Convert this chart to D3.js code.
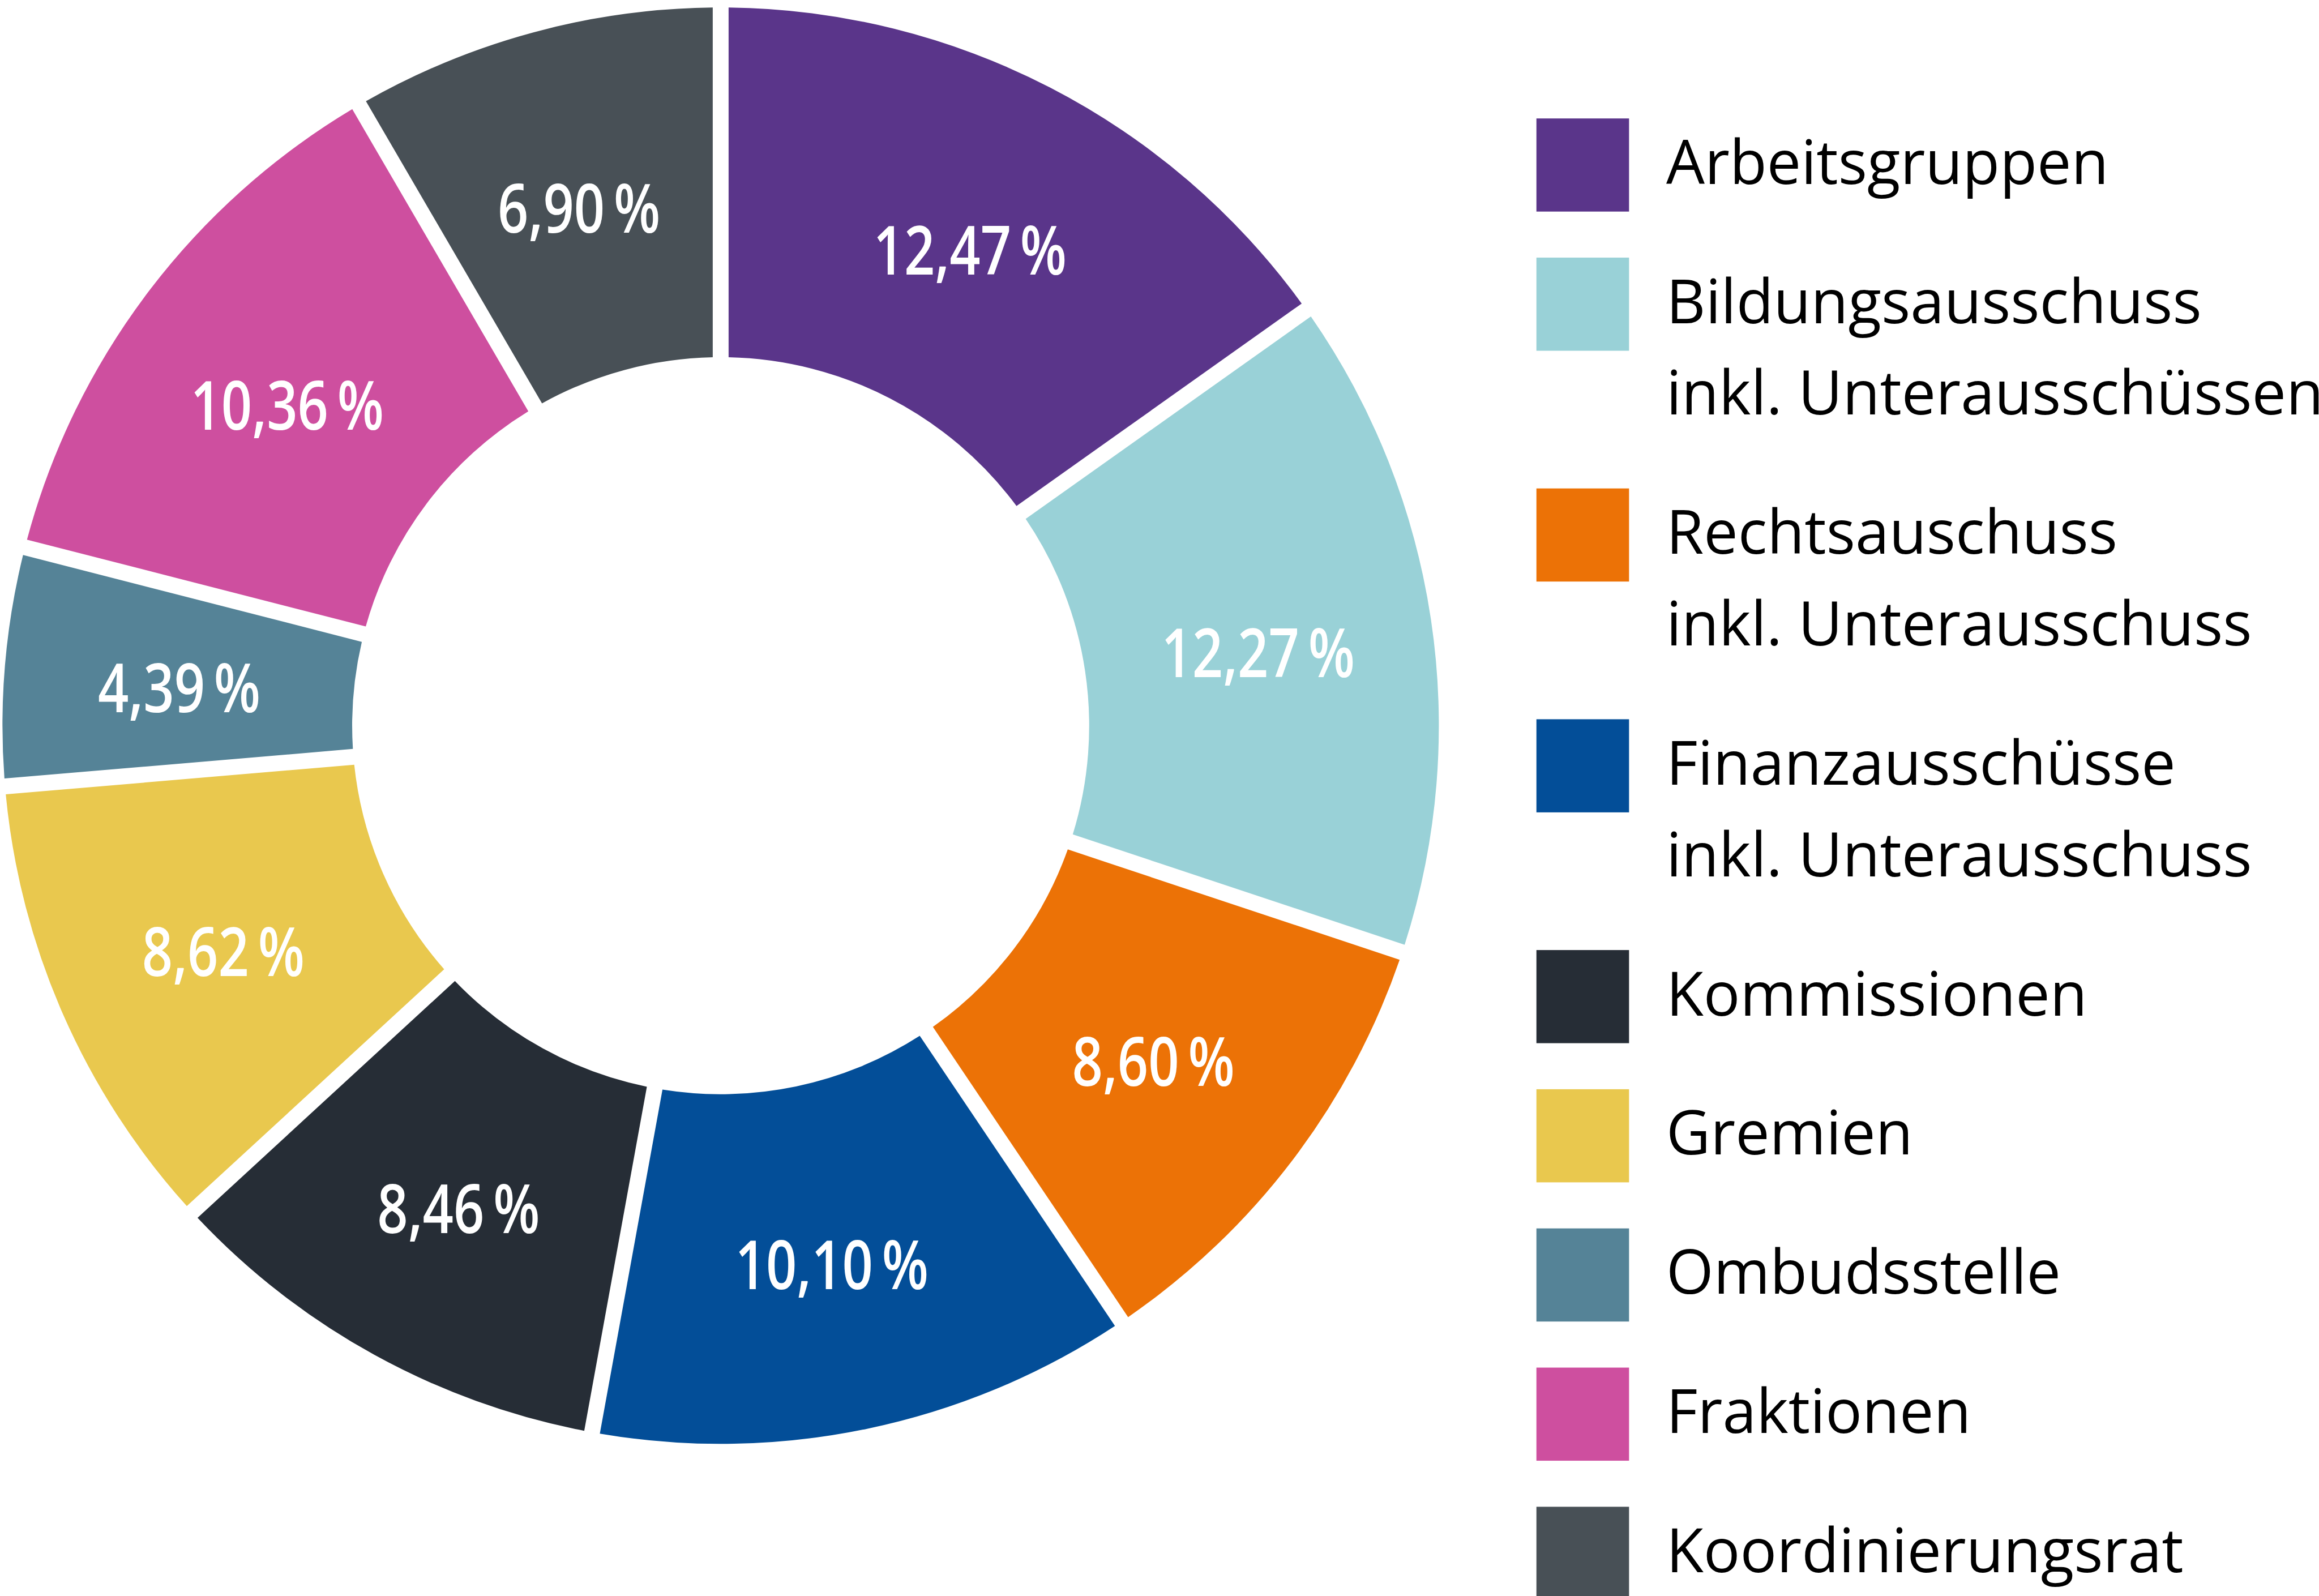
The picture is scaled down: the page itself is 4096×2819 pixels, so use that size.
<!DOCTYPE html>
<html>
<head>
<meta charset="utf-8">
<script src="https://cdn.jsdelivr.net/npm/d3@7"></script>
<style>
  html, body { margin: 0; padding: 0; background: #fff; }
  svg { display: block; }
</style>
</head>
<body>
<script>
// Gremienarbeit: share of time per body (donut)
var categories = [
  ["Arbeitsgruppen"],
  ["Bildungsausschuss", "inkl. Unterausschüssen"],
  ["Rechtsauschuss", "inkl. Unterausschuss"],
  ["Finanzausschüsse", "inkl. Unterausschuss"],
  ["Kommissionen"],
  ["Gremien"],
  ["Ombudsstelle"],
  ["Fraktionen"],
  ["Koordinierungsrat"]
];
var values = [12.47, 12.27, 8.60, 10.10, 8.46, 8.62, 4.39, 10.36, 6.90];
var colors = ["#5a358a", "#99d1d7", "#ec7206", "#034e98", "#262d36",
              "#e9c84e", "#558397", "#ce4f9f", "#485056"];

// drawn in the reference's own units, the viewBox shrinks it to the window
var W = 4682, H = 3222;

var svg = d3.select("body").append("svg")
    .attr("width", 4096)
    .attr("height", 2819)
    .attr("viewBox", "0 0 " + W + " " + H);

var cx = 1455, cy = 1465,
    outerR = 1450, innerR = 744,
    gap = 32;

var data = values.map(function(v, i){
  return { value: v, lines: categories[i], color: colors[i] };
});

var pie = d3.pie()
    .sort(null)
    .value(function(d){ return d.value; });

var arc = d3.arc()
    .innerRadius(innerR)
    .outerRadius(outerR)
    .padRadius(outerR)
    .padAngle(gap / outerR);

var labelArc = d3.arc()
    .innerRadius(innerR)
    .outerRadius(outerR);

var fmt = function(v){
  return d3.format(".2f")(v).replace(".", ",") + "\u2009%";
};

var g = svg.append("g")
    .attr("transform", "translate(" + cx + "," + cy + ")");

var arcs = pie(data);

g.selectAll("path.slice")
    .data(arcs).enter()
    .append("path")
    .attr("class", "slice")
    .attr("d", arc)
    .attr("fill", function(d){ return d.data.color; });

g.selectAll("text.pct")
    .data(arcs).enter()
    .append("text")
    .attr("class", "pct")
    .attr("transform", function(d){
      var c = labelArc.centroid(d);
      return "translate(" + c[0] + "," + c[1] + ") scale(0.8,1)";
    })
    .attr("text-anchor", "middle")
    .attr("dy", "0.47em")
    .attr("font-family", "'Open Sans', 'Noto Sans', sans-serif")
    .attr("font-weight", 600)
    .attr("font-size", 136)
    .attr("fill", "#fff")
    .text(function(d){ return fmt(d.data.value); });

// legend
var legX = 3102, legTop = 239,
    swW = 187, swH = 188,
    rowGap = 281, lineH = 185,
    textX = 3364, baseOff = 132;

var y = legTop;
data.forEach(function(d){
  d.top = y;
  y += rowGap + lineH * (d.lines.length - 1);
});

var leg = svg.append("g").attr("class", "legend");

var item = leg.selectAll("g.item")
    .data(data).enter()
    .append("g")
    .attr("class", "item")
    .attr("transform", function(d){ return "translate(0," + d.top + ")"; });

item.append("rect")
    .attr("x", legX)
    .attr("y", 0)
    .attr("width", swW)
    .attr("height", swH)
    .attr("fill", function(d){ return d.color; });

item.append("text")
    .attr("x", textX)
    .attr("y", baseOff)
    .attr("font-family", "'Open Sans', 'Noto Sans', sans-serif")
    .attr("font-size", 123)
    .attr("fill", "#000")
    .selectAll("tspan")
    .data(function(d){ return d.lines; }).enter()
    .append("tspan")
    .attr("x", textX)
    .attr("dy", function(t, i){ return i === 0 ? 0 : lineH; })
    .text(function(t){ return t; });
</script>
</body>
</html>
